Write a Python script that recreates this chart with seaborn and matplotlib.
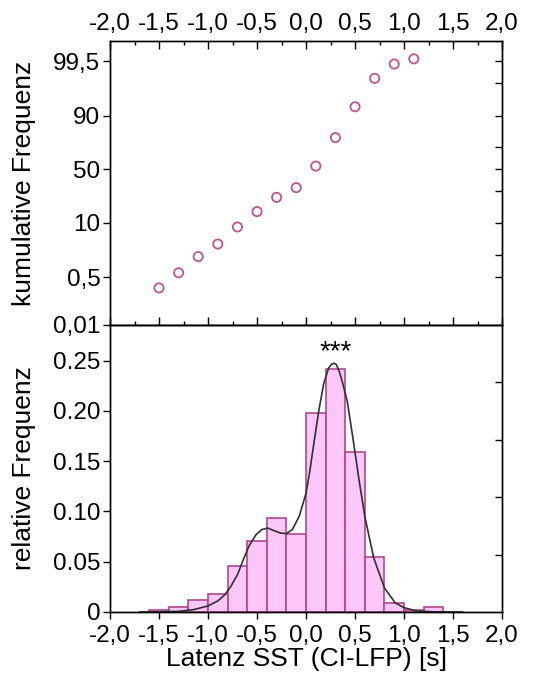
import matplotlib
matplotlib.use('Agg')
import numpy as np
import seaborn as sns
import matplotlib.pyplot as plt
from matplotlib.ticker import FixedLocator, FixedFormatter, NullFormatter
from statistics import NormalDist

# cumulative frequency (probability plot), percent
cum_x = [-1.5, -1.3, -1.1, -0.9, -0.7, -0.5, -0.3, -0.1, 0.1, 0.3, 0.5, 0.7, 0.9, 1.1]
cum_pct = [0.23, 0.67, 1.85, 3.7, 8.4, 15.6, 25.1, 33.0, 53.0, 77.5, 93.2, 98.5, 99.4, 99.58]

# histogram of latency, relative frequency per 0.2 s bin
bin_edges = [-1.6, -1.4, -1.2, -1.0, -0.8, -0.6, -0.4, -0.2, 0.0, 0.2, 0.4, 0.6, 0.8, 1.0, 1.2, 1.4]
bin_centers = [-1.5, -1.3, -1.1, -0.9, -0.7, -0.5, -0.3, -0.1, 0.1, 0.3, 0.5, 0.7, 0.9, 1.1, 1.3]
rel_freq = [0.0023, 0.005, 0.0116, 0.0183, 0.0458, 0.0711, 0.0933, 0.0777,
            0.1982, 0.2414, 0.1594, 0.0545, 0.009, 0.0017, 0.005]

# fitted curve
fit_x = [-1.70, -1.50, -1.30, -1.15, -1.00, -0.90, -0.83, -0.77, -0.70, -0.64,
         -0.58, -0.51, -0.45, -0.39, -0.33, -0.26, -0.20, -0.14, -0.07, 0.00,
         0.04, 0.085, 0.13, 0.18, 0.23, 0.26, 0.287, 0.31, 0.34, 0.37,
         0.42, 0.48, 0.54, 0.60, 0.69, 0.80, 0.91, 1.00, 1.13, 1.30, 1.60]
fit_y = [0.0, 0.0002, 0.0007, 0.0023, 0.006, 0.011, 0.017, 0.025, 0.037, 0.052,
         0.066, 0.077, 0.082, 0.0835, 0.081, 0.0785, 0.078, 0.082, 0.095, 0.118,
         0.141, 0.171, 0.200, 0.227, 0.2425, 0.2465, 0.2475, 0.246, 0.239, 0.229,
         0.210, 0.172, 0.132, 0.095, 0.054, 0.024, 0.009, 0.0043, 0.001, 0.0002, 0.0]

x_ticks = [-2.0, -1.5, -1.0, -0.5, 0.0, 0.5, 1.0, 1.5, 2.0]
x_labels = ['-2,0', '-1,5', '-1,0', '-0,5', '0,0', '0,5', '1,0', '1,5', '2,0']
p_ticks = [0.01, 0.5, 10, 50, 90, 99.5]
p_labels = ['0,01', '0,5', '10', '50', '90', '99,5']
p_minor = [0.5, 2, 10, 30, 50, 70, 90, 98, 99.5]
h_ticks = [0, 0.05, 0.10, 0.15, 0.20, 0.25]
h_labels = ['0', '0.05', '0.10', '0.15', '0.20', '0.25']
h_right = [0.0571, 0.1142, 0.1713, 0.2284]

fill_c = '#FDC8F9'
edge_c = '#B0488A'
mark_c = '#BC5592'

TICK_FS = 17.5
LAB_FS = 19

sns.set_style("ticks")
plt.rcParams['font.family'] = ['Liberation Sans', 'DejaVu Sans']
plt.rcParams['axes.linewidth'] = 1.0
plt.rcParams['axes.edgecolor'] = 'black'
plt.rcParams['text.color'] = 'black'
plt.rcParams['axes.labelcolor'] = 'black'
plt.rcParams['xtick.color'] = 'black'
plt.rcParams['ytick.color'] = 'black'

nd = NormalDist()
_inv_cdf = np.vectorize(nd.inv_cdf, otypes=[float])
_cdf = np.vectorize(nd.cdf, otypes=[float])


def probit(p):
    p = np.clip(np.asarray(p, dtype=float) / 100.0, 1e-12, 1 - 1e-12)
    return _inv_cdf(p)


def iprobit(z):
    return _cdf(np.asarray(z, dtype=float)) * 100.0


fig = plt.figure(figsize=(5.59, 6.8), dpi=100)
ax1 = fig.add_axes([0.1968, 0.5221, 0.7013, 0.4176])
ax2 = fig.add_axes([0.1968, 0.1, 0.7013, 0.4221])

# ---- top panel: probability plot
sns.scatterplot(x=cum_x, y=cum_pct, ax=ax1, marker='o', s=44,
                facecolors='none', edgecolors=mark_c, linewidth=1.3)
ax1.set_yscale('function', functions=(probit, iprobit))
ax1.set_ylim(0.01, 99.89)
ax1.set_xlim(-2.0, 2.0)
ax1.xaxis.set_major_locator(FixedLocator(x_ticks))
ax1.xaxis.set_major_formatter(FixedFormatter(x_labels))
ax1.xaxis.set_minor_locator(FixedLocator([-1.75, -1.25, -0.75, -0.25, 0.25, 0.75, 1.25, 1.75]))
ax1.tick_params(axis='x', which='both', direction='in', top=True, bottom=True,
                labeltop=True, labelbottom=False, labelsize=TICK_FS, pad=4)
ax1.tick_params(axis='x', which='major', length=5.5, width=1.0)
ax1.tick_params(axis='x', which='minor', length=3, width=1.0)
ax1.yaxis.set_major_locator(FixedLocator(p_ticks))
ax1.yaxis.set_major_formatter(FixedFormatter(p_labels))
ax1.yaxis.set_minor_locator(FixedLocator([]))
ax1.tick_params(axis='y', which='major', direction='out', left=True, right=False,
                length=5, width=1.0, labelsize=TICK_FS, pad=2)
ax1.set_ylabel('kumulative Frequenz', fontsize=LAB_FS)
ax1.yaxis.set_label_coords(-0.19, 0.5)
ax1.set_xlabel('')

r1 = ax1.twinx()
r1.set_yscale('function', functions=(probit, iprobit))
r1.set_ylim(0.01, 99.89)
r1.yaxis.set_major_locator(FixedLocator(p_minor))
r1.yaxis.set_major_formatter(NullFormatter())
r1.yaxis.set_minor_locator(FixedLocator([]))
r1.tick_params(axis='y', direction='in', length=5, width=1.0)

# ---- bottom panel: histogram with fit
sns.histplot(x=bin_centers, weights=rel_freq, bins=bin_edges, ax=ax2,
             color=fill_c, edgecolor=edge_c, linewidth=1.2, alpha=1.0)
sns.lineplot(x=fit_x, y=fit_y, ax=ax2, color='#303030', linewidth=1.2)
ax2.text(0.3, 0.258, '***', ha='center', va='center', fontsize=20)
ax2.set_xlim(-2.0, 2.0)
ax2.set_ylim(0, 0.2855)
ax2.xaxis.set_major_locator(FixedLocator(x_ticks))
ax2.xaxis.set_major_formatter(FixedFormatter(x_labels))
ax2.yaxis.set_major_locator(FixedLocator(h_ticks))
ax2.yaxis.set_major_formatter(FixedFormatter(h_labels))
ax2.tick_params(axis='x', direction='out', top=False, length=5, width=1.0,
                labelsize=TICK_FS, pad=4.5)
ax2.tick_params(axis='y', direction='out', right=False, length=5, width=1.0,
                labelsize=TICK_FS, pad=2)
ax2.set_xlabel('Latenz SST (CI-LFP) [s]', fontsize=LAB_FS, labelpad=0)
ax2.set_ylabel('relative Frequenz', fontsize=LAB_FS)
ax2.yaxis.set_label_coords(-0.19, 0.5)

r2 = ax2.twinx()
r2.set_ylim(0, 0.2855)
r2.yaxis.set_major_locator(FixedLocator(h_right))
r2.yaxis.set_major_formatter(NullFormatter())
r2.tick_params(axis='y', direction='in', length=5, width=1.0)

fig.savefig('out.png', dpi=100)
